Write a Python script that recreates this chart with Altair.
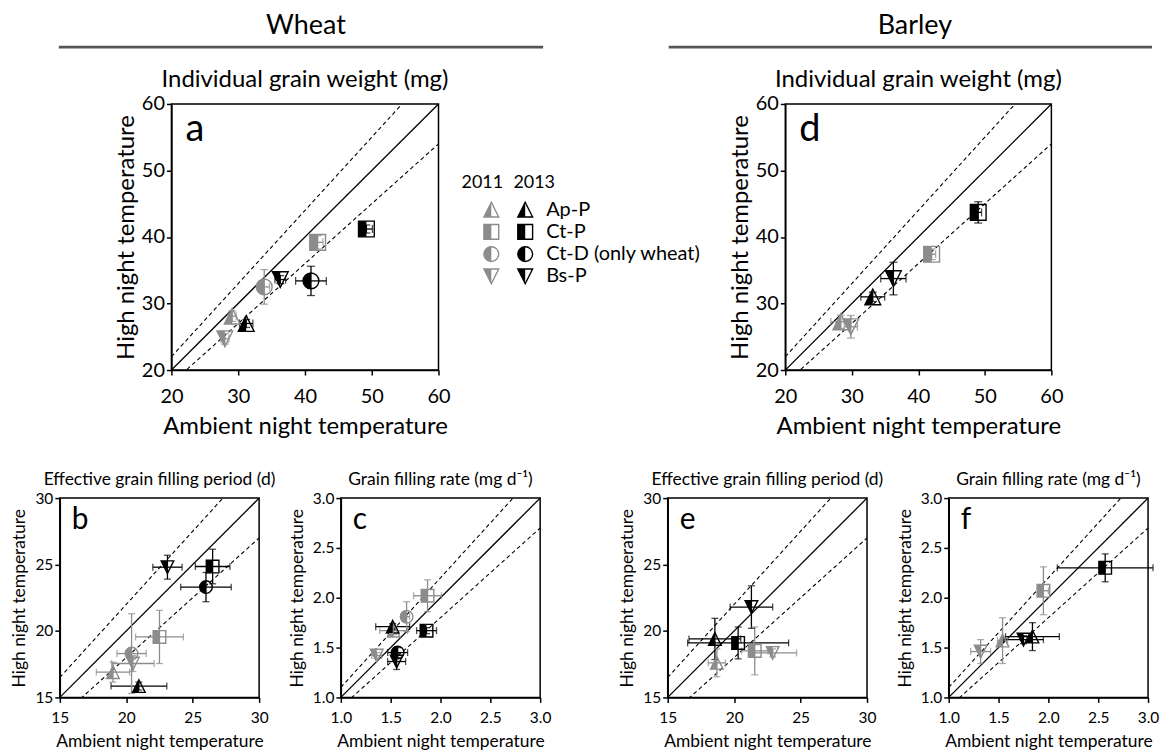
import altair as alt
import pandas as pd

FONT = "Lato"
GRAY = "#8c8c8c"
BLACK = "#000000"

CATS = ["Ap-P", "Ct-P", "Ct-D", "Bs-P"]
CAT_LABELS = ["Ap-P", "Ct-P", "Ct-D (only wheat)", "Bs-P"]
YEARS = ["2011", "2013"]

FULL_PATHS = ["M0,-1L1,1L-1,1Z", "M-1,-1L1,-1L1,1L-1,1Z",
              "M0,-1A1,1,0,1,1,0,1A1,1,0,1,1,0,-1Z", "M-1,-1L1,-1L0,1Z"]
HALF_PATHS = ["M0,-1L0,1L-1,1Z", "M-1,-1L0,-1L0,1L-1,1Z",
              "M0,-1A1,1,0,0,0,0,1Z", "M-1,-1L0,-1L0,1Z"]

# ---- Wheat ----
W_CAT = ["Ap-P", "Ap-P", "Ct-P", "Ct-P", "Ct-D", "Ct-D", "Bs-P", "Bs-P"]
W_YEAR = ["2011", "2013", "2011", "2013", "2011", "2013", "2011", "2013"]
# a: individual grain weight
A_X = [29.1, 31.2, 41.9, 49.2, 33.9, 40.9, 28.0, 36.3]
A_Y = [28.1, 27.0, 39.2, 41.2, 32.5, 33.4, 24.7, 33.6]
A_EX = [0.6, 1.0, 0.8, 0.9, 0.8, 2.3, 0.6, 0.8]
A_EY = [0.8, 0.6, 1.0, 0.6, 2.6, 2.2, 0.8, 0.6]
# b: effective grain filling period
B_X = [19.0, 20.95, 22.5, 26.5, 20.4, 26.0, 20.5, 23.1]
B_Y = [16.9, 15.85, 19.55, 24.85, 18.3, 23.3, 17.55, 24.8]
B_EX = [1.25, 2.1, 1.8, 1.3, 1.1, 1.9, 1.6, 1.1]
B_EY = [0.75, 0.3, 2.0, 1.3, 3.0, 1.1, 0.6, 0.9]
# c: grain filling rate
C_X = [1.53, 1.52, 1.87, 1.86, 1.66, 1.57, 1.36, 1.56]
C_Y = [1.67, 1.71, 2.02, 1.67, 1.81, 1.45, 1.42, 1.36]
C_EX = [0.14, 0.17, 0.14, 0.10, 0.03, 0.10, 0.05, 0.09]
C_EY = [0.04, 0.03, 0.16, 0.03, 0.15, 0.05, 0.03, 0.08]

# ---- Barley ----
BA_CAT = ["Ap-P", "Ap-P", "Ct-P", "Ct-P", "Bs-P", "Bs-P"]
BA_YEAR = ["2011", "2013", "2011", "2013", "2011", "2013"]
# d
D_X = [28.35, 33.15, 42.0, 49.0, 29.85, 36.25]
D_Y = [27.25, 31.0, 37.4, 43.7, 26.5, 33.75]
D_EX = [1.5, 1.8, 0.6, 0.5, 1.0, 1.9]
D_EY = [1.0, 0.7, 0.8, 1.6, 1.7, 2.45]
# e
E_X = [18.7, 18.55, 21.55, 20.3, 22.9, 21.3]
E_Y = [17.6, 19.4, 18.5, 19.1, 18.35, 21.8]
E_EX = [0.65, 1.95, 1.0, 3.8, 1.8, 1.6]
E_EY = [1.05, 1.55, 1.8, 1.2, 0.3, 1.6]
# f
F_X = [1.54, 1.84, 1.95, 2.57, 1.32, 1.75]
F_Y = [1.57, 1.61, 2.07, 2.30, 1.46, 1.58]
F_EX = [0.05, 0.27, 0.05, 0.48, 0.10, 0.20]
F_EY = [0.23, 0.14, 0.24, 0.14, 0.12, 0.04]

DOM_IGW = [20, 60]
TICKS_IGW = [20, 30, 40, 50, 60]
DOM_EGFP = [15, 30]
TICKS_EGFP = [15, 20, 25, 30]
DOM_GFR = [1.0, 3.0]
TICKS_GFR = [1.0, 1.5, 2.0, 2.5, 3.0]

COLOR = alt.Color("year:N", scale=alt.Scale(domain=YEARS, range=[GRAY, BLACK]), legend=None)


def spacer(w, h):
    return alt.Chart(pd.DataFrame({"v": [0]})).mark_rule(opacity=0, strokeWidth=0).encode(
        x=alt.value(0), x2=alt.value(w), y=alt.value(0)).properties(width=w, height=h)


def panel(cat, year, xs, ys, exs, eys, dom, ticks, fmt, title, letter, w, h, big):
    if big:
        lab_fs, tit_fs, ptit_fs, let_fs, msize, cap = 20, 24, 24, 38, 250, 8
        lpx, tpx, tpy, letx, lety, toff = 12, 8, 3, 14, 37, 2
    else:
        lab_fs, tit_fs, ptit_fs, let_fs, msize, cap = 15.5, 17.5, 17.5, 30, 160, 7
        lpx, tpx, tpy, letx, lety, toff = 8, 7, 6, 12, 31, 3
    df = pd.DataFrame(dict(cat=cat, year=year, x=xs, y=ys, ex=exs, ey=eys))
    df["xlo"] = df["x"] - df["ex"]
    df["xhi"] = df["x"] + df["ex"]
    df["ylo"] = df["y"] - df["ey"]
    df["yhi"] = df["y"] + df["ey"]

    common = dict(grid=False, tickSize=5, tickWidth=1.5, tickColor="black",
                  domainColor="black", domainWidth=1.5, labelFontSize=lab_fs,
                  labelColor="black", titleFontSize=tit_fs, titleFontWeight="normal",
                  titleColor="black", labelFlush=False, labelOverlap=False,
                  values=ticks, format=fmt)
    xaxis = alt.Axis(title="Ambient night temperature", labelPadding=lpx,
                     titlePadding=tpx, **common)
    yaxis = alt.Axis(title="High night temperature", labelPadding=2,
                     titlePadding=tpy, **common)
    xsc = alt.Scale(domain=dom, nice=False, zero=False)
    ysc = alt.Scale(domain=dom, nice=False, zero=False)

    def X(f):
        return alt.X(f, type="quantitative", scale=xsc, axis=xaxis)

    def Y(f):
        return alt.Y(f, type="quantitative", scale=ysc, axis=yaxis)

    lo, hi = dom
    ldf = pd.DataFrame({"r": ["1", "1", "1.1", "1.1", "0.9", "0.9"],
                        "lx": [lo, hi, lo, hi, lo, hi],
                        "ly": [lo, hi, 1.1 * lo, 1.1 * hi, 0.9 * lo, 0.9 * hi]})
    base_l = alt.Chart(ldf)
    solid = base_l.transform_filter("datum.r == '1'").mark_line(
        clip=True, color="black", strokeWidth=1.3).encode(x=X("lx"), y=Y("ly"))
    dashed = base_l.transform_filter("datum.r != '1'").mark_line(
        clip=True, color="black", strokeWidth=1.1, strokeDash=[4, 3]).encode(
        x=X("lx"), y=Y("ly"), detail="r:N")

    base = alt.Chart(df)
    xr = base.mark_rule(strokeWidth=1.3).encode(
        x=X("xlo"), x2="xhi", y=Y("y"), color=COLOR)
    xc = base.transform_fold(["xlo", "xhi"], as_=["k", "xv"]).mark_tick(
        orient="vertical", size=cap, thickness=1.3).encode(
        x=X("xv"), y=Y("y"), color=COLOR)
    yr = base.mark_rule(strokeWidth=1.3).encode(
        x=X("x"), y=Y("ylo"), y2="yhi", color=COLOR)
    yc = base.transform_fold(["ylo", "yhi"], as_=["k", "yv"]).mark_tick(
        orient="horizontal", size=cap, thickness=1.3).encode(
        x=X("x"), y=Y("yv"), color=COLOR)
    outline = base.mark_point(filled=False, size=msize, strokeWidth=1.4, opacity=1).encode(
        x=X("x"), y=Y("y"), color=COLOR,
        shape=alt.Shape("cat:N", scale=alt.Scale(domain=CATS, range=FULL_PATHS), legend=None))
    half = base.mark_point(filled=True, size=msize, opacity=1).encode(
        x=X("x"), y=Y("y"), color=COLOR,
        shape=alt.Shape("cat:N", scale=alt.Scale(domain=CATS, range=HALF_PATHS), legend=None))
    let = alt.Chart(pd.DataFrame({"t": [letter]})).mark_text(
        align="left", baseline="alphabetic", fontSize=let_fs, color="black").encode(
        x=alt.value(letx), y=alt.value(lety), text="t:N")

    return alt.layer(solid, dashed, xr, xc, yr, yc, outline, half, let).resolve_scale(
        shape="independent").properties(
        width=w, height=h,
        title=alt.TitleParams(title, fontSize=ptit_fs, fontWeight="normal",
                              color="black", anchor="middle", offset=toff, frame="group"),
        view=alt.ViewBackground(stroke="black", strokeWidth=1.5))


# ---- panels ----
pa = panel(W_CAT, W_YEAR, A_X, A_Y, A_EX, A_EY, DOM_IGW, TICKS_IGW, "d",
           "Individual grain weight (mg)", "a", 268, 267, True)
pd_ = panel(BA_CAT, BA_YEAR, D_X, D_Y, D_EX, D_EY, DOM_IGW, TICKS_IGW, "d",
            "Individual grain weight (mg)", "d", 267, 267, True)
pb = panel(W_CAT, W_YEAR, B_X, B_Y, B_EX, B_EY, DOM_EGFP, TICKS_EGFP, "d",
           "Effective grain filling period (d)", "b", 200, 200, False)
pc = panel(W_CAT, W_YEAR, C_X, C_Y, C_EX, C_EY, DOM_GFR, TICKS_GFR, ".1f",
           "Grain filling rate (mg d\u207b\u00b9)", "c", 200, 200, False)
pe = panel(BA_CAT, BA_YEAR, E_X, E_Y, E_EX, E_EY, DOM_EGFP, TICKS_EGFP, "d",
           "Effective grain filling period (d)", "e", 200, 200, False)
pf = panel(BA_CAT, BA_YEAR, F_X, F_Y, F_EX, F_EY, DOM_GFR, TICKS_GFR, ".1f",
           "Grain filling rate (mg d\u207b\u00b9)", "f", 200, 200, False)

# ---- legend ----
ldf = pd.DataFrame({"cat": CATS, "label": CAT_LABELS})
LY = alt.Y("cat:N", scale=alt.Scale(type="point", domain=CATS, range=[106, 173], padding=0),
           axis=None)
leg_layers = []
for yr_, xpos, col in [("2011", 53, GRAY), ("2013", 87, BLACK)]:
    leg_layers.append(alt.Chart(ldf).mark_point(
        filled=False, size=220, strokeWidth=1.4, opacity=1, color=col).encode(
        x=alt.value(xpos), y=LY,
        shape=alt.Shape("cat:N", scale=alt.Scale(domain=CATS, range=FULL_PATHS), legend=None)))
    leg_layers.append(alt.Chart(ldf).mark_point(
        filled=True, size=220, opacity=1, color=col).encode(
        x=alt.value(xpos), y=LY,
        shape=alt.Shape("cat:N", scale=alt.Scale(domain=CATS, range=HALF_PATHS), legend=None)))
leg_text = alt.Chart(ldf).mark_text(align="left", baseline="middle", fontSize=20,
                                     color="black").encode(
    x=alt.value(108), y=LY, text="label:N")
yr_df = pd.DataFrame({"yr": YEARS})
leg_head = alt.Chart(yr_df).mark_text(align="center", baseline="middle", fontSize=18,
                                       color="black").encode(
    x=alt.X("yr:N", scale=alt.Scale(type="point", domain=YEARS, range=[44, 96], padding=0),
            axis=None),
    y=alt.value(79), text="yr:N")
legend = alt.layer(*leg_layers, leg_text, leg_head).resolve_scale(
    shape="independent").properties(width=348, height=267)

# ---- header ----
HEADERS = ["Wheat", "Barley"]
hdr_parts = []
for name, cx, x1, x2 in [(HEADERS[0], 299, 51, 537), (HEADERS[1], 910, 663, 1148)]:
    hdr_parts.append(alt.Chart(pd.DataFrame({"t": [name]})).mark_text(
        fontSize=27, baseline="middle", align="center", color="black").encode(
        x=alt.value(cx), y=alt.value(17), text="t:N"))
    hdr_parts.append(alt.Chart(pd.DataFrame({"t": [name]})).mark_rule(
        color="#555555", strokeWidth=2.6).encode(
        x=alt.value(x1), x2=alt.value(x2), y=alt.value(38)))
header = alt.layer(*hdr_parts).properties(width=1150, height=58)

top_row = alt.hconcat(spacer(164, 267), pa, legend, pd_, spacing=0, bounds="flush")
bottom_row = alt.hconcat(spacer(52, 200), pb, spacer(81.7, 200), pc, spacer(127.3, 200),
                         pe, spacer(82, 200), pf, spacing=0, bounds="flush")

panels = alt.vconcat(top_row, bottom_row, spacing=29.5)
chart = alt.vconcat(header, panels, spacing=0).properties(padding=0).configure(
    font=FONT).configure_view(stroke=None)

chart.save("out.html", embed_options={"renderer": "svg", "actions": False})
